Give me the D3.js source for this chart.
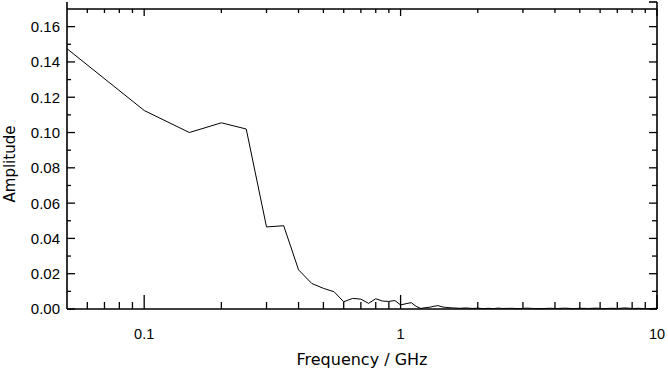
<!DOCTYPE html>
<html>
<head>
<meta charset="utf-8">
<script src="https://cdn.jsdelivr.net/npm/d3@7"></script>
<style>
  html, body { margin: 0; padding: 0; background: #fff; }
  svg { display: block; }
  text { fill: #000; }
</style>
</head>
<body>
<svg id="chart" width="668" height="372"></svg>
<script>
// Data
const frequency = [0.05, 0.1, 0.15, 0.2, 0.25, 0.3, 0.35, 0.4, 0.45, 0.5, 0.55, 0.6, 0.65, 0.7, 0.75, 0.8, 0.85, 0.9, 0.95, 1.0,
  1.05, 1.1, 1.15, 1.2, 1.25, 1.3, 1.35, 1.4, 1.45, 1.5, 1.6, 1.7, 1.8, 1.9, 2.0, 2.1, 2.2, 2.3, 2.4, 2.5, 2.7, 2.9, 3.1, 3.3,
  3.5, 3.8, 4.1, 4.4, 4.7, 5.0, 5.4, 5.8, 6.2, 6.6, 7.0, 7.5, 8.0, 8.5, 9.0, 9.5, 10.0];
const amplitude = [0.1475, 0.1125, 0.1000, 0.1055, 0.1020, 0.0465, 0.0472, 0.0222, 0.0145, 0.0117, 0.0098, 0.0041, 0.0060, 0.0056, 0.0032, 0.0058, 0.0045, 0.0043, 0.0048, 0.0023,
  0.0030, 0.0036, 0.0015, 0.0003, 0.0008, 0.0010, 0.0016, 0.0019, 0.0012, 0.0009, 0.0006, 0.0004, 0.0006, 0.0003, 0.0005, 0.0002, 0.0004, 0.0002, 0.0005, 0.0003, 0.0004, 0.0002, 0.0005, 0.0003,
  0.0002, 0.0004, 0.0003, 0.0005, 0.0002, 0.0004, 0.0003, 0.0005, 0.0002, 0.0004, 0.0003, 0.0006, 0.0003, 0.0004, 0.0002, 0.0003, 0.0004];
const xMajorTicks = [0.1, 1, 10];
const xMinorTicks = [0.06, 0.07, 0.08, 0.09, 0.2, 0.3, 0.4, 0.5, 0.6, 0.7, 0.8, 0.9, 2, 3, 4, 5, 6, 7, 8, 9];
const yMajorTicks = [0, 0.02, 0.04, 0.06, 0.08, 0.10, 0.12, 0.14, 0.16];
const yMinorTicks = [0.01, 0.03, 0.05, 0.07, 0.09, 0.11, 0.13, 0.15];
const xLabel = "Frequency / GHz";
const yLabel = "Amplitude";

const L = 67, R = 657, T = 9, B = 309;
const svg = d3.select("#chart");
const x = d3.scaleLog().domain([0.05, 10]).range([L, R]);
const y = d3.scaleLinear().domain([0, 0.17]).range([B, T]);

const g = svg.append("g");

// data line
g.append("path")
  .datum(frequency.map((f, i) => [f, amplitude[i]]))
  .attr("fill", "none")
  .attr("stroke", "#000")
  .attr("stroke-width", 1)
  .attr("d", d3.line().x(d => x(d[0])).y(d => y(d[1])));

// frame
const fw = 1.6;
g.append("line").attr("x1", L).attr("x2", R).attr("y1", T).attr("y2", T).attr("stroke", "#000").attr("stroke-width", fw);
g.append("line").attr("x1", L).attr("x2", R).attr("y1", B).attr("y2", B).attr("stroke", "#000").attr("stroke-width", fw);
g.append("line").attr("x1", L).attr("x2", L).attr("y1", 2).attr("y2", B).attr("stroke", "#000").attr("stroke-width", fw);
g.append("line").attr("x1", R).attr("x2", R).attr("y1", 2).attr("y2", B).attr("stroke", "#000").attr("stroke-width", fw);
g.append("line").attr("x1", R - 8).attr("x2", R).attr("y1", 2).attr("y2", 2).attr("stroke", "#000").attr("stroke-width", fw);

const tw = 1.3;
function tick(x1, y1, x2, y2) {
  g.append("line").attr("x1", x1).attr("y1", y1).attr("x2", x2).attr("y2", y2)
    .attr("stroke", "#000").attr("stroke-width", tw);
}
// x ticks (bottom and top, inward)
xMajorTicks.forEach(v => { const px = x(v); tick(px, B, px, B - 14); tick(px, T, px, T + 7); });
xMinorTicks.forEach(v => { const px = x(v); tick(px, B, px, B - 7); tick(px, T, px, T + 4); });
// y ticks (left and right, inward)
yMajorTicks.forEach(v => { const py = y(v); tick(L, py, L + 8, py); tick(R, py, R - 8, py); });
yMinorTicks.forEach(v => { const py = y(v); tick(L, py, L + 4, py); tick(R, py, R - 5, py); });

// tick labels
const tickFont = "'Liberation Sans', Arial, sans-serif";
g.selectAll(".xl").data(xMajorTicks).enter().append("text")
  .attr("x", d => x(d)).attr("y", 339)
  .attr("text-anchor", "middle").attr("font-size", 14.5).attr("font-family", tickFont)
  .text(d => d3.format("~g")(d));
g.selectAll(".yl").data(yMajorTicks).enter().append("text")
  .attr("x", 60).attr("y", d => y(d)).attr("dy", "0.36em")
  .attr("text-anchor", "end").attr("font-size", 15).attr("font-family", tickFont)
  .text(d => d3.format(".2f")(d));

// axis titles
const titleFont = "'DejaVu Sans', sans-serif";
g.append("text").attr("x", (L + R) / 2).attr("y", 365)
  .attr("text-anchor", "middle").attr("font-size", 16).attr("font-family", titleFont).text(xLabel);
g.append("text").attr("transform", `translate(15,164) rotate(-90)`)
  .attr("text-anchor", "middle").attr("font-size", 15).attr("font-family", titleFont).text(yLabel);
</script>
</body>
</html>
